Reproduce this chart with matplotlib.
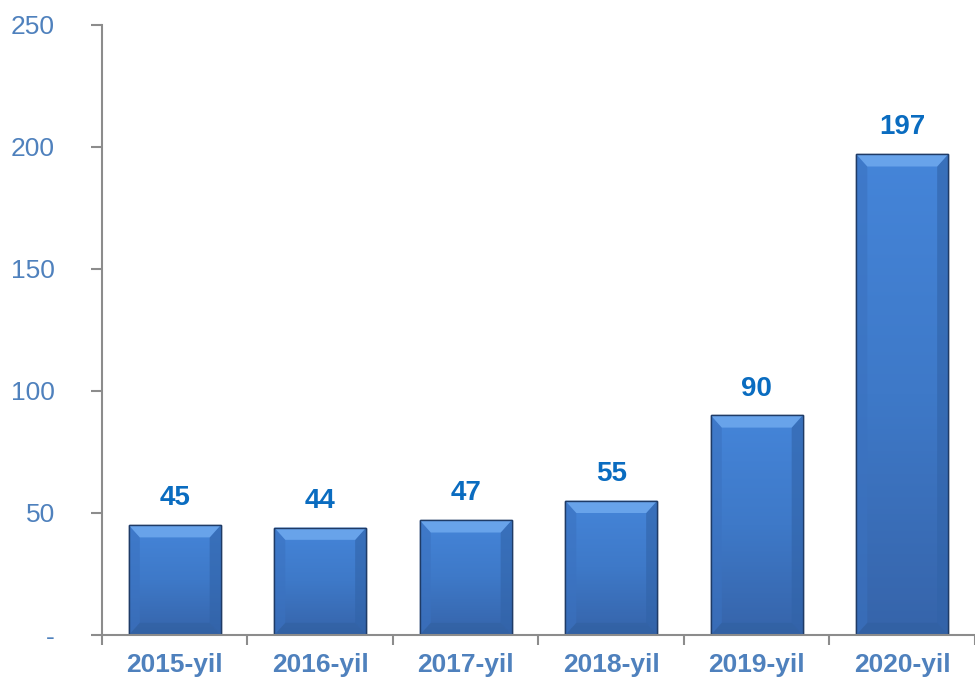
import numpy as np
import matplotlib.pyplot as plt
from matplotlib.patches import Polygon
from matplotlib.colors import LinearSegmentedColormap

# data
years = ['2015-yil', '2016-yil', '2017-yil', '2018-yil', '2019-yil', '2020-yil']
values = [45, 44, 47, 55, 90, 197]
yticks = [0, 50, 100, 150, 200, 250]
ytick_labels = ['-', '50', '100', '150', '200', '250']

plt.rcParams['font.family'] = ['Liberation Sans', 'DejaVu Sans']

fig = plt.figure(figsize=(9.75, 6.79), dpi=100)
ax = fig.add_axes([0.1046, 0.0648, 0.8954, 0.8984])

x = np.arange(len(years))
bars = ax.bar(x, values, width=0.63, color='#3f7bcc', edgecolor='#1f3b66',
              linewidth=1.0, zorder=2)

ax.set_xlim(-0.5, len(years) - 0.5)
ax.set_ylim(0, 250)

body = LinearSegmentedColormap.from_list('body', ['#3664aa', '#3e79c8', '#4585d9'])
grad = np.linspace(0, 1, 256).reshape(-1, 1)

# bevel size in data units
dx = 0.075
dy = 5.0

for rect, v in zip(bars, values):
    x0 = rect.get_x()
    w = rect.get_width()
    h = rect.get_height()
    im = ax.imshow(grad, cmap=body, aspect='auto', origin='lower',
                   extent=[x0, x0 + w, 0, h], zorder=2.1)
    im.set_clip_path(rect)
    # side/bottom bevels (subtle)
    ax.add_patch(Polygon([(x0, 0), (x0 + dx, dy), (x0 + dx, h - dy), (x0, h)],
                         closed=True, facecolor='#3b72c0', alpha=0.6,
                         edgecolor='none', zorder=2.2))
    ax.add_patch(Polygon([(x0 + w, 0), (x0 + w - dx, dy), (x0 + w - dx, h - dy), (x0 + w, h)],
                         closed=True, facecolor='#3163a8', alpha=0.6,
                         edgecolor='none', zorder=2.2))
    ax.add_patch(Polygon([(x0, 0), (x0 + w, 0), (x0 + w - dx, dy), (x0 + dx, dy)],
                         closed=True, facecolor='#30609f', alpha=0.5,
                         edgecolor='none', zorder=2.2))
    # top bevel
    ax.add_patch(Polygon([(x0, h), (x0 + w, h), (x0 + w - dx, h - dy), (x0 + dx, h - dy)],
                         closed=True, facecolor='#68a3ea', edgecolor='none', zorder=2.3))
    ax.add_patch(Polygon([(x0, 0), (x0 + w, 0), (x0 + w, h), (x0, h)], closed=True,
                         facecolor='none', edgecolor='#1f3b66', linewidth=1.0, zorder=2.4))
    ax.annotate(str(v), (x0 + w / 2, h), xytext=(0, 10),
                textcoords='offset points', ha='center', va='bottom',
                fontsize=20, fontweight='bold', color='#0a6cc0')

for s in ['top', 'right']:
    ax.spines[s].set_visible(False)
for s in ['left', 'bottom']:
    ax.spines[s].set_color('#8c8c8c')
    ax.spines[s].set_linewidth(1.5)

ax.set_yticks(yticks)
ax.set_yticklabels(ytick_labels, fontsize=19, color='#4f81bd')
ax.tick_params(axis='y', length=8, width=1.5, color='#8c8c8c', pad=26)

ax.set_xticks(np.arange(len(years) + 1) - 0.5, minor=False)
ax.set_xticklabels([''] * (len(years) + 1))
ax.tick_params(axis='x', length=7, width=1.5, color='#8c8c8c')
ax.set_xticks(x, minor=True)
ax.set_xticklabels(years, minor=True, fontsize=19, fontweight='bold', color='#4f81bd')
ax.tick_params(axis='x', which='minor', length=0, pad=13)

fig.savefig('out.png', dpi=100)
